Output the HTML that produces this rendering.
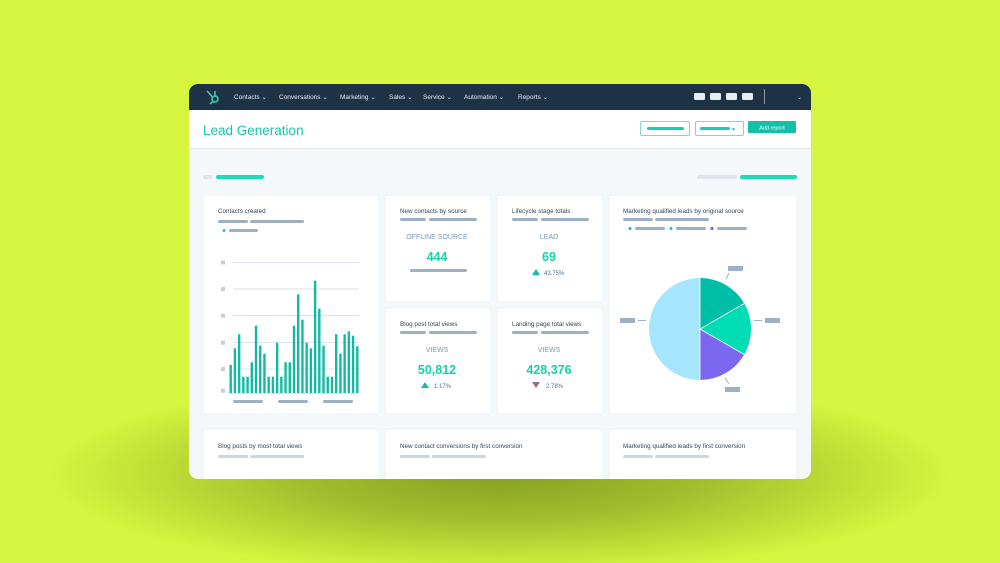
<!DOCTYPE html>
<html><head><meta charset="utf-8"><style>
html,body{margin:0;padding:0;width:1000px;height:563px;overflow:hidden;background:#d6f53e}
svg{display:block}
text{font-family:"Liberation Sans",sans-serif}
</style></head><body>
<svg width="1000" height="563" viewBox="0 0 1000 563" xmlns="http://www.w3.org/2000/svg">
<defs>
<radialGradient id="sh" cx="500" cy="475" r="450" gradientUnits="userSpaceOnUse" gradientTransform="translate(0,475) scale(1,0.22) translate(0,-475)">
<stop offset="0" stop-color="#86a024"/>
<stop offset="0.45" stop-color="#a2be2d"/>
<stop offset="1" stop-color="#d6f53e"/>
</radialGradient>
<clipPath id="win"><rect x="189" y="84" width="622" height="395" rx="9"/></clipPath>
</defs>
<rect width="1000" height="563" fill="#d6f53e"/>
<ellipse cx="500" cy="475" rx="450" ry="100" fill="url(#sh)"/>
<g clip-path="url(#win)">
<rect x="189" y="84" width="622" height="395" fill="#f5f8fa"/>
<rect x="189" y="84" width="622" height="26" fill="#1e3246"/>
<rect x="189" y="110" width="622" height="38" fill="#fff"/>
<rect x="189" y="148" width="622" height="1" fill="#dfe3eb"/>
<g fill="#fff" stroke="#e8edf2" stroke-width="0.8">
<rect x="203" y="195" width="176" height="219"/>
<rect x="385" y="195" width="106" height="107"/>
<rect x="497" y="195" width="106" height="107"/>
<rect x="385" y="308" width="106" height="106"/>
<rect x="497" y="308" width="106" height="106"/>
<rect x="609" y="195" width="188" height="219"/>
<rect x="203" y="429" width="176" height="60"/>
<rect x="385" y="429" width="218" height="60"/>
<rect x="609" y="429" width="188" height="60"/>
</g>
</g>
<!-- logo -->
<g stroke="#3ec9b6" stroke-width="1.6" fill="none">
<circle cx="215" cy="99" r="3"/><line x1="212.5" y1="97" x2="207" y2="91"/><line x1="215" y1="96" x2="215" y2="91"/><line x1="213" y1="101.5" x2="210" y2="104"/>
</g>
<g font-size="6.5" fill="#e8eef4">
<text x="234" y="99">Contacts ⌄</text><text x="279" y="99">Conversations ⌄</text><text x="340" y="99">Marketing ⌄</text>
<text x="389" y="99">Sales ⌄</text><text x="423" y="99">Service ⌄</text><text x="464" y="99">Automation ⌄</text><text x="518" y="99">Reports ⌄</text>
</g>
<g fill="#e8eef4"><rect x="694" y="93" width="11" height="7" rx="1.5"/><rect x="710" y="93" width="11" height="7" rx="1.5"/><rect x="726" y="93" width="11" height="7" rx="1.5"/><rect x="742" y="93" width="11" height="7" rx="1.5"/></g>
<rect x="764" y="89" width="1" height="15" fill="#8a9bb0"/>
<text x="797" y="99" font-size="6" fill="#cbd6e2">⌄</text>
<text x="203" y="135" font-size="13.5" fill="#10c9a7">Lead Generation</text>
<rect x="640.5" y="121.5" width="49" height="14" rx="1.5" fill="#fff" stroke="#7fd6cc"/>
<rect x="647" y="127" width="37" height="3" rx="1.5" fill="#1fc8b0"/>
<rect x="695.5" y="121.5" width="48" height="14" rx="1.5" fill="#fff" stroke="#7fd6cc"/>
<rect x="700" y="127" width="30" height="3" rx="1.5" fill="#1fc8b0"/><text x="731" y="131" font-size="5" fill="#1fc8b0">▼</text>
<rect x="748" y="121" width="48" height="12" rx="1" fill="#12bfa9"/>
<text x="772" y="129.5" font-size="5.5" fill="#fff" text-anchor="middle">Add report</text>
<rect x="203" y="175" width="9" height="4" rx="2" fill="#dfe3eb"/><rect x="216" y="175" width="48" height="4" rx="2" fill="#1edbb4"/>
<rect x="697" y="175" width="40" height="4" rx="2" fill="#dfe3eb"/><rect x="740" y="175" width="57" height="4" rx="2" fill="#1edbb4"/>
<g font-size="6.3" fill="#33475b">
<text x="218" y="213">Contacts created</text>
<text x="400" y="213">New contacts by source</text>
<text x="512" y="213">Lifecycle stage totals</text>
<text x="400" y="326">Blog post total views</text>
<text x="512" y="326">Landing page total views</text>
<text x="623" y="213">Marketing qualified leads by original source</text>
<text x="218" y="448">Blog posts by most total views</text>
<text x="400" y="448">New contact conversions by first conversion</text>
<text x="623" y="448">Marketing qualified leads by first conversion</text>
</g>
<g fill="#9fb0c3">
<rect x="218" y="220" width="30" height="3" rx="1.5"/><rect x="250" y="220" width="54" height="3" rx="1.5"/>
<rect x="229" y="229" width="29" height="3" rx="1.5"/>
<rect x="400" y="218" width="26" height="3" rx="1.5"/><rect x="429" y="218" width="48" height="3" rx="1.5"/>
<rect x="512" y="218" width="26" height="3" rx="1.5"/><rect x="541" y="218" width="48" height="3" rx="1.5"/>
<rect x="400" y="331" width="26" height="3" rx="1.5"/><rect x="429" y="331" width="48" height="3" rx="1.5"/>
<rect x="512" y="331" width="26" height="3" rx="1.5"/><rect x="541" y="331" width="48" height="3" rx="1.5"/>
<rect x="623" y="218" width="30" height="3" rx="1.5"/><rect x="655" y="218" width="54" height="3" rx="1.5"/>
<rect x="635" y="227" width="30" height="3" rx="1.5"/><rect x="676" y="227" width="30" height="3" rx="1.5"/><rect x="717" y="227" width="30" height="3" rx="1.5"/>
<rect x="410" y="269" width="57" height="3" rx="1.5"/>
<rect x="233" y="400" width="30" height="3" rx="1.5"/><rect x="278" y="400" width="30" height="3" rx="1.5"/><rect x="323" y="400" width="30" height="3" rx="1.5"/>
<rect x="620" y="318" width="15" height="5"/><rect x="765" y="318" width="15" height="5"/><rect x="728" y="266" width="15" height="5"/><rect x="725" y="387" width="15" height="5"/>
</g>
<g fill="#cbd6e2">
<rect x="218" y="455" width="30" height="3" rx="1.5"/><rect x="250" y="455" width="54" height="3" rx="1.5"/>
<rect x="400" y="455" width="30" height="3" rx="1.5"/><rect x="432" y="455" width="54" height="3" rx="1.5"/>
<rect x="623" y="455" width="30" height="3" rx="1.5"/><rect x="655" y="455" width="54" height="3" rx="1.5"/>
</g>
<circle cx="224" cy="230.5" r="1.5" fill="#1ec8ad"/>
<circle cx="630" cy="228.5" r="1.5" fill="#00bda5"/><circle cx="671" cy="228.5" r="1.5" fill="#00d8b0"/><circle cx="712" cy="228.5" r="1.5" fill="#6b5cd6"/>
<g font-size="7" fill="#7c98b6" text-anchor="middle">
<text x="437" y="239">OFFLINE SOURCE</text><text x="549" y="239">LEAD</text>
<text x="437" y="352">VIEWS</text><text x="549" y="352">VIEWS</text>
</g>
<g font-size="12.5" fill="#12d3ad" text-anchor="middle" font-weight="bold">
<text x="437" y="261">444</text><text x="549" y="261">69</text>
<text x="437" y="374">50,812</text><text x="549" y="374">428,376</text>
</g>
<g font-size="6" fill="#516f90">
<text x="544" y="275">43.75%</text><text x="434" y="388">1.17%</text><text x="546" y="388">2.78%</text>
</g>
<polygon points="532,275 536,269 540,275" fill="#12bfa0"/>
<polygon points="421,388 425,382 429,388" fill="#12bfa0"/>
<polygon points="532,382 540,382 536,388" fill="#8c6f7c"/>
<g stroke="#cbd6e2" stroke-width="0.7">
<line x1="233" y1="262.3" x2="359" y2="262.3"/><line x1="233" y1="289" x2="359" y2="289"/><line x1="233" y1="315.7" x2="359" y2="315.7"/><line x1="233" y1="342.7" x2="359" y2="342.7"/><line x1="233" y1="369" x2="359" y2="369"/><line x1="228" y1="393.5" x2="359" y2="393.5"/>
</g>
<g fill="#c6d0da">
<rect x="221" y="260.5" width="4" height="4"/><rect x="221" y="287" width="4" height="4"/><rect x="221" y="313.7" width="4" height="4"/><rect x="221" y="340.7" width="4" height="4"/><rect x="221" y="367" width="4" height="4"/><rect x="221" y="388.7" width="4" height="4"/>
</g>
<g fill="#13b9a3" id="bars"></g>
<path d="M700,329 L700,278 A51,51 0 0 0 700,380 Z" fill="#a6e6fd"/>
<path d="M700,329 L700,278 A51,51 0 0 1 744.2,303.5 Z" fill="#00bda5"/>
<path d="M700,329 L744.2,303.5 A51,51 0 0 1 744.2,354.5 Z" fill="#00dcb3"/>
<path d="M700,329 L744.2,354.5 A51,51 0 0 1 700,380 Z" fill="#7b68ee"/>
<g stroke="#fff" stroke-width="0.8"><line x1="700" y1="329" x2="744.2" y2="303.5"/><line x1="700" y1="329" x2="744.2" y2="354.5"/><line x1="700" y1="278" x2="700" y2="380"/></g>
<g stroke="#9fb0c3" stroke-width="1"><line x1="638" y1="320.5" x2="646" y2="320.5"/><line x1="754" y1="320.5" x2="762" y2="320.5"/><line x1="729" y1="273" x2="726" y2="279"/><line x1="725" y1="378" x2="729" y2="384"/></g>
</svg>
<script>
var tops=[365,348.3,334.3,376.7,376.7,362.3,325.7,345.7,353.7,376.7,376.7,342.7,376.7,362.3,362.3,325.7,294.3,319.7,342.7,348.3,280.7,308.7,345.7,376.7,376.7,334.3,353.7,334.3,331.3,335.7,346.3];
var g=document.getElementById('bars'),s='';
for(var i=0;i<tops.length;i++){var x=229.5+i*4.22;s+='<rect x="'+x.toFixed(2)+'" y="'+tops[i]+'" width="2.4" height="'+(393-tops[i]).toFixed(1)+'"/>';}
g.innerHTML=s;
</script>
</body></html>
